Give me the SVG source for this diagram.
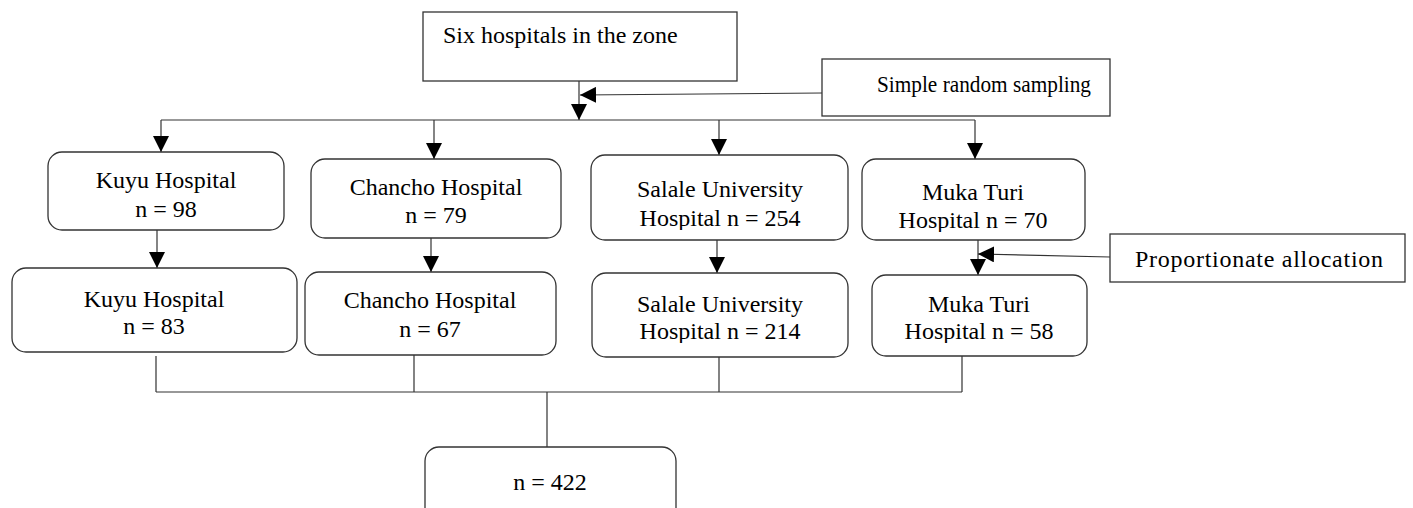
<svg xmlns="http://www.w3.org/2000/svg" width="1413" height="508" viewBox="0 0 1413 508">
<style>
.box{fill:#fff;stroke:#333;stroke-width:1.3}
.t{font-family:"Liberation Serif","Times New Roman",serif;font-size:24px;fill:#000}
.c{text-anchor:middle}
.ln{fill:none;stroke:#333;stroke-width:1.2}
</style>
<defs>
<marker id="ah" markerUnits="userSpaceOnUse" markerWidth="16" markerHeight="16" viewBox="0 0 14 14" refX="14" refY="7" orient="auto">
<path d="M0,0 L14,7 L0,14 Z" fill="#000"/>
</marker>
<clipPath id="clipSal1"><rect x="591" y="155" width="257" height="75"/></clipPath>
<clipPath id="clipMuk1"><rect x="862" y="159" width="223" height="73"/></clipPath>
<clipPath id="clipSal2"><rect x="592" y="273" width="256" height="70"/></clipPath>
<clipPath id="clipMuk2"><rect x="872" y="275" width="215" height="68"/></clipPath>
</defs>

<g id="connectors">
<path class="ln" d="M579,81 V120" marker-end="url(#ah)"/>
<path class="ln" d="M822,93 L580,95" marker-end="url(#ah)"/>
<path class="ln" d="M161,120 H975"/>
<path class="ln" d="M161,120 V152" marker-end="url(#ah)"/>
<path class="ln" d="M434,120 V159" marker-end="url(#ah)"/>
<path class="ln" d="M719,120 V155" marker-end="url(#ah)"/>
<path class="ln" d="M975,120 V159" marker-end="url(#ah)"/>
<path class="ln" d="M157,230 V268" marker-end="url(#ah)"/>
<path class="ln" d="M431,238 V272" marker-end="url(#ah)"/>
<path class="ln" d="M717,240 V273" marker-end="url(#ah)"/>
<path class="ln" d="M978,240 V275" marker-end="url(#ah)"/>
<path class="ln" d="M1110,257 L978,254" marker-end="url(#ah)"/>
<path class="ln" d="M156,356 V392 M414,355 V392 M719,357 V392 M962,356 V392 M156,392 H962 M547,392 V447"/>
</g>

<g id="top">
<rect class="box" x="423" y="12" width="314" height="69"/>
<text class="t" x="443" y="43">Six hospitals in the zone</text>
</g>
<g id="srs">
<rect class="box" x="822" y="59" width="288" height="57"/>
<text class="t" x="877" y="92" textLength="214" lengthAdjust="spacingAndGlyphs">Simple random sampling</text>
</g>
<g id="kuyu1">
<rect class="box" x="48" y="152" width="236" height="78" rx="14"/>
<text class="t c" x="166" y="188">Kuyu Hospital</text>
<text class="t c" x="166" y="217">n = 98</text>
</g>
<g id="chancho1">
<rect class="box" x="311" y="159" width="250" height="79" rx="14"/>
<text class="t c" x="436" y="195">Chancho Hospital</text>
<text class="t c" x="436" y="223">n = 79</text>
</g>
<g id="salale1">
<rect class="box" x="591" y="155" width="257" height="85" rx="14"/>
<g clip-path="url(#clipSal1)">
<text class="t c" x="720" y="197">Salale University</text>
<text class="t c" x="720" y="226">Hospital n = 254</text>
</g>
</g>
<g id="muka1">
<rect class="box" x="862" y="159" width="223" height="81" rx="14"/>
<g clip-path="url(#clipMuk1)">
<text class="t c" x="973" y="200">Muka Turi</text>
<text class="t c" x="973" y="228">Hospital n = 70</text>
</g>
</g>
<g id="kuyu2">
<rect class="box" x="12" y="268" width="285" height="84" rx="14"/>
<text class="t c" x="154" y="307">Kuyu Hospital</text>
<text class="t c" x="154" y="334">n = 83</text>
</g>
<g id="chancho2">
<rect class="box" x="305" y="272" width="251" height="83" rx="14"/>
<text class="t c" x="430" y="308">Chancho Hospital</text>
<text class="t c" x="430" y="337">n = 67</text>
</g>
<g id="salale2">
<rect class="box" x="592" y="273" width="256" height="84" rx="14"/>
<g clip-path="url(#clipSal2)">
<text class="t c" x="720" y="312">Salale University</text>
<text class="t c" x="720" y="339">Hospital n = 214</text>
</g>
</g>
<g id="muka2">
<rect class="box" x="872" y="275" width="215" height="81" rx="14"/>
<g clip-path="url(#clipMuk2)">
<text class="t c" x="979" y="312">Muka Turi</text>
<text class="t c" x="979" y="339">Hospital n = 58</text>
</g>
</g>
<g id="prop">
<rect class="box" x="1110" y="234" width="295" height="48"/>
<text class="t" x="1135" y="267" textLength="248">Proportionate allocation</text>
</g>
<g id="total">
<rect class="box" x="425" y="447" width="251" height="75" rx="14"/>
<text class="t c" x="550" y="490">n = 422</text>
</g>
</svg>
